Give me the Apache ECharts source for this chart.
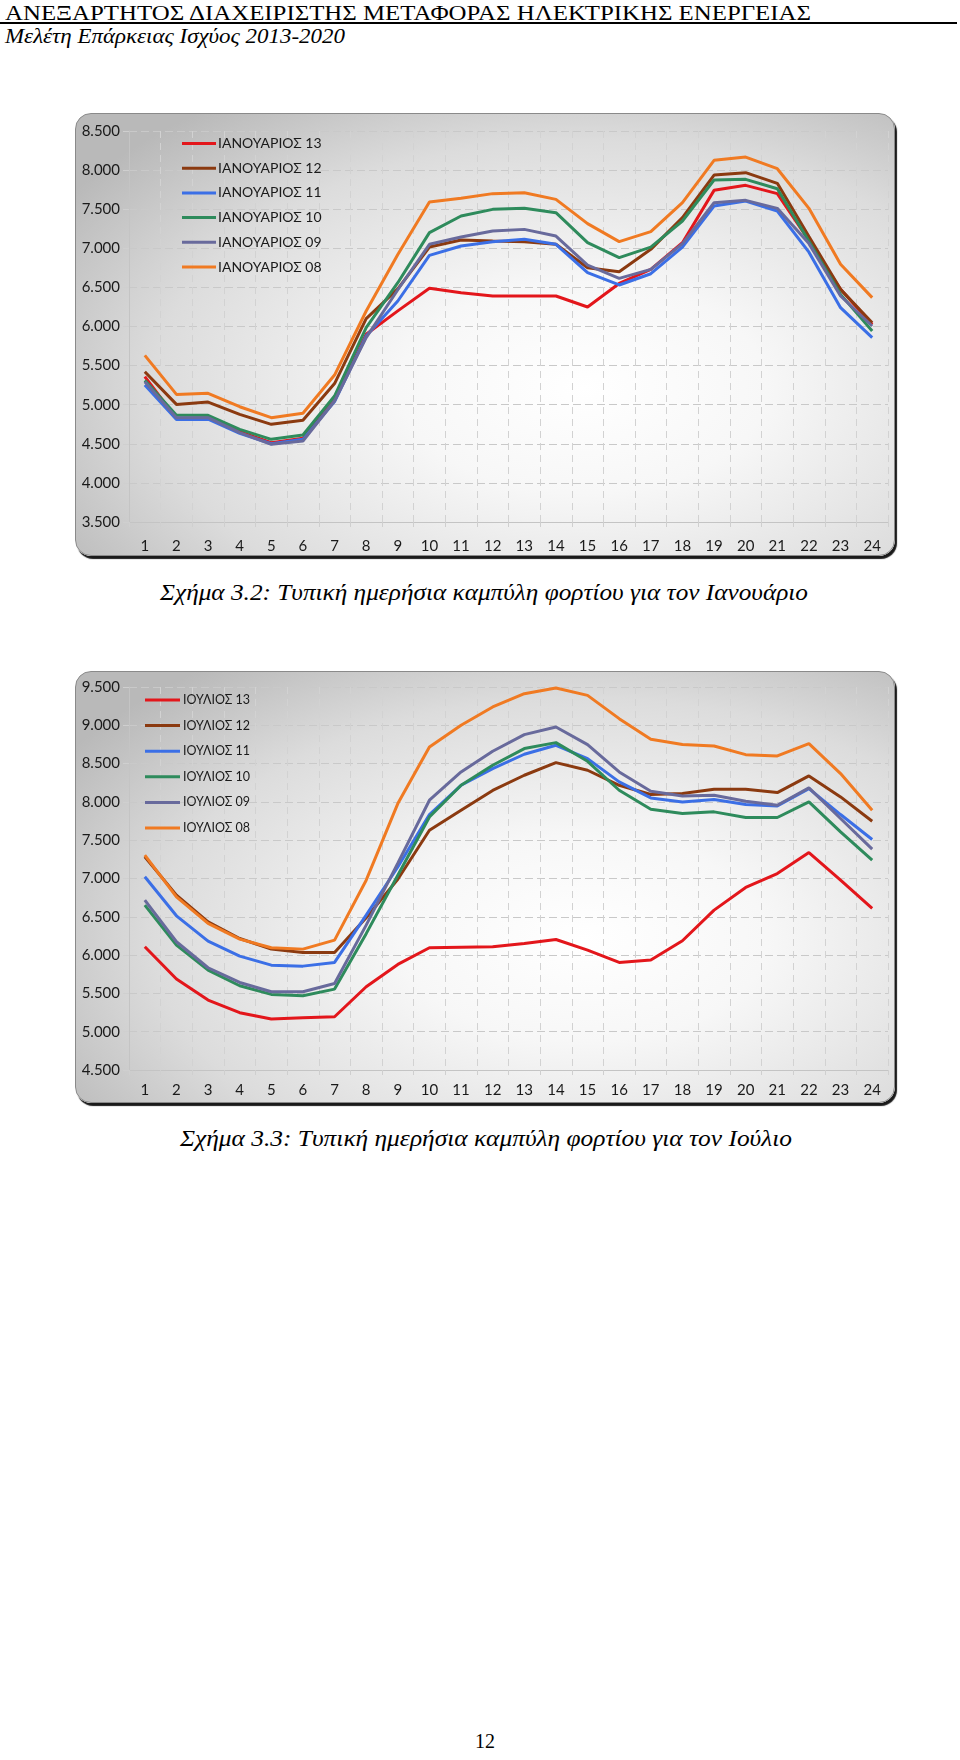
<!DOCTYPE html>
<html>
<head>
<meta charset="utf-8">
<script src="https://cdn.jsdelivr.net/npm/echarts@6/dist/echarts.min.js"></script>
<style>
  html, body { margin: 0; padding: 0; background: #fff; }
  body { width: 960px; height: 1760px; position: relative; overflow: hidden; }
  .t { position: absolute; white-space: nowrap; transform-origin: left top; color: #000; line-height: 1; }
  .serif { font-family: "Liberation Serif", "DejaVu Serif", serif; }
  .it { font-style: italic; }
  .hr { position: absolute; left: 0; top: 22px; width: 957px; height: 2px; background: #000; }
  .box {
    position: absolute; left: 75px; width: 818px;
    border: 1px solid #8a8a8a; border-radius: 16px;
    box-shadow: 2px 3px 1px #1a1a1a;
    background: radial-gradient(ellipse 75% 80% at 62% 62%, #ffffff 0%, #f7f7f7 30%, #dcdcdc 70%, #b9b9b9 100%);
    overflow: hidden;
  }
  .chart { position: absolute; left: 0; top: 0; width: 818px; }
</style>
</head>
<body>
<div class="t serif" id="hdr" style="left:5px; top:2px; font-size:22px;">ΑΝΕΞΑΡΤΗΤΟΣ ΔΙΑΧΕΙΡΙΣΤΗΣ ΜΕΤΑΦΟΡΑΣ ΗΛΕΚΤΡΙΚΗΣ ΕΝΕΡΓΕΙΑΣ</div>
<div class="hr"></div>
<div class="t serif it" id="sub" style="left:5px; top:26px; font-size:21px;">Μελέτη Επάρκειας Ισχύος 2013-2020</div>

<div class="box" style="top:113px; height:441px;"><div class="chart" id="c1" style="height:441px;"></div></div>
<div class="t serif it" id="cap1" style="left:160px; top:581px; font-size:23px;">Σχήμα 3.2: Τυπική ημερήσια καμπύλη φορτίου για τον Ιανουάριο</div>

<div class="box" style="top:671px; height:430px;"><div class="chart" id="c2" style="height:430px;"></div></div>
<div class="t serif it" id="cap2" style="left:180px; top:1127px; font-size:23px;">Σχήμα 3.3: Τυπική ημερήσια καμπύλη φορτίου για τον Ιούλιο</div>

<div class="t serif" id="pg" style="left:475px; top:1731px; font-size:20px;">12</div>

<script>
// ---------- DATA ----------
const hours = ['1','2','3','4','5','6','7','8','9','10','11','12','13','14','15','16','17','18','19','20','21','22','23','24'];

const janNames = ['ΙΑΝΟΥΑΡΙΟΣ 13','ΙΑΝΟΥΑΡΙΟΣ 12','ΙΑΝΟΥΑΡΙΟΣ 11','ΙΑΝΟΥΑΡΙΟΣ 10','ΙΑΝΟΥΑΡΙΟΣ 09','ΙΑΝΟΥΑΡΙΟΣ 08'];
const jan13 = [5360,4825,4830,4655,4514,4570,5060,5900,6200,6488,6432,6390,6390,6390,6249,6550,6731,7072,7741,7805,7699,7100,6475,6027];
const jan12 = [5422,5004,5034,4876,4749,4800,5270,6100,6480,7016,7106,7093,7085,7051,6752,6701,6987,7392,7937,7967,7831,7150,6475,6049];
const jan11 = [5252,4812,4815,4633,4501,4557,5040,5878,6326,6910,7029,7085,7115,7051,6688,6531,6675,7016,7541,7605,7477,6950,6241,5857];
const jan10 = [5311,4864,4864,4685,4557,4612,5111,5985,6560,7200,7413,7498,7511,7456,7072,6880,7016,7349,7873,7882,7762,7090,6411,5942];
const jan09 = [5294,4834,4834,4642,4493,4535,5047,5857,6470,7051,7144,7221,7242,7157,6786,6616,6731,7059,7583,7613,7511,7060,6390,6006];
const jan08 = [5631,5132,5145,4974,4834,4890,5379,6198,6920,7592,7639,7699,7711,7626,7315,7085,7213,7583,8125,8167,8018,7511,6795,6369];

const julNames = ['ΙΟΥΛΙΟΣ 13','ΙΟΥΛΙΟΣ 12','ΙΟΥΛΙΟΣ 11','ΙΟΥΛΙΟΣ 10','ΙΟΥΛΙΟΣ 09','ΙΟΥΛΙΟΣ 08'];
const jul13 = [6109,5687,5413,5248,5165,5182,5195,5587,5878,6096,6104,6109,6152,6204,6065,5904,5935,6187,6587,6883,7065,7339,6978,6609];
const jul12 = [7283,6783,6435,6217,6078,6035,6035,6487,6990,7630,7891,8150,8348,8513,8413,8217,8096,8109,8165,8165,8122,8339,8065,7748];
const jul11 = [7022,6513,6182,5987,5869,5856,5904,6522,7150,7835,8217,8435,8622,8739,8565,8261,8052,8000,8030,7965,7948,8174,7835,7509];
const jul10 = [6652,6130,5804,5600,5487,5469,5556,6280,7043,7804,8217,8478,8696,8774,8530,8152,7904,7848,7870,7796,7796,8000,7609,7239];
const jul09 = [6717,6174,5835,5643,5522,5522,5630,6391,7200,8022,8391,8661,8878,8978,8748,8391,8139,8078,8087,8009,7957,8183,7783,7383];
const jul08 = [7304,6761,6413,6209,6096,6078,6196,6978,7978,8717,9000,9239,9413,9487,9391,9087,8817,8748,8730,8617,8600,8761,8370,7891];

const colors = ['#e3161b','#8b3a10','#3b6fe6','#2e8b5c','#686a9c','#f07a22'];

// ---------- helpers ----------
function fitWidth(id, w) {
  const el = document.getElementById(id);
  const cw = el.getBoundingClientRect().width;
  el.style.transform = 'scaleX(' + (w / cw) + ')';
}
fitWidth('hdr', 806);
fitWidth('sub', 340);
fitWidth('cap1', 648);
fitWidth('cap2', 612);

function fmt(v) {
  const k = Math.floor(v / 1000), r = v % 1000;
  return k + '.' + String(r).padStart(3, '0');
}
const FONT = 'Lato, "Open Sans", sans-serif';

function makeOption(names, datas, cfg) {
  return {
    animation: false,
    color: colors,
    grid: { left: 53, right: 6, top: cfg.top, bottom: cfg.bottom, containLabel: false },
    legend: {
      orient: 'vertical', left: cfg.legLeft, top: cfg.legTop,
      icon: 'rect', itemWidth: cfg.legW, itemHeight: 3, itemGap: cfg.legGap,
      textStyle: { fontFamily: FONT, fontSize: cfg.legFont, color: '#1a1a1a', lineHeight: cfg.legLH, padding: [0,0,0,cfg.legPad] },
      data: names
    },
    xAxis: {
      type: 'category', data: hours, boundaryGap: true,
      axisLine: { lineStyle: { color: '#c4c4c4', width: 1 } },
      axisTick: { show: true, length: 5, lineStyle: { color: '#cfcfcf' } },
      axisLabel: { fontFamily: FONT, fontSize: 15, color: '#1a1a1a', margin: cfg.xMargin, interval: 0 },
      splitLine: { show: true, lineStyle: { color: '#d2d2d2', type: [7, 5], width: 1 } }
    },
    yAxis: {
      type: 'value', min: cfg.min, max: cfg.max, interval: 500,
      axisLine: { show: true, lineStyle: { color: '#c4c4c4' } },
      axisTick: { show: true, length: 6, lineStyle: { color: '#cfcfcf' } },
      axisLabel: { fontFamily: FONT, fontSize: 15, color: '#1a1a1a', margin: 9, formatter: fmt },
      splitLine: { show: true, lineStyle: { color: '#c9c9c9', type: [8, 4], width: 1 } }
    },
    series: names.map((n, i) => ({
      name: n, type: 'line', data: datas[i], symbol: 'none',
      lineStyle: { width: 3, color: colors[i] }, itemStyle: { color: colors[i] }, z: 2 + i
    }))
  };
}

const c1 = echarts.init(document.getElementById('c1'), null, { renderer: 'canvas' });
c1.setOption(makeOption(janNames, [jan13, jan12, jan11, jan10, jan09, jan08], {
  top: 17, bottom: 33, min: 3500, max: 8500, xMargin: 17,
  legLeft: 101, legTop: 17, legW: 34, legGap: 9.7, legFont: 14, legLH: 15, legPad: -3
}));

const c2 = echarts.init(document.getElementById('c2'), null, { renderer: 'canvas' });
c2.setOption(makeOption(julNames, [jul13, jul12, jul11, jul10, jul09, jul08], {
  top: 15, bottom: 32, min: 4500, max: 9500, xMargin: 13,
  legLeft: 64, legTop: 16, legW: 35, legGap: 11.6, legFont: 12.5, legLH: 14, legPad: -2
}));
</script>
</body>
</html>
